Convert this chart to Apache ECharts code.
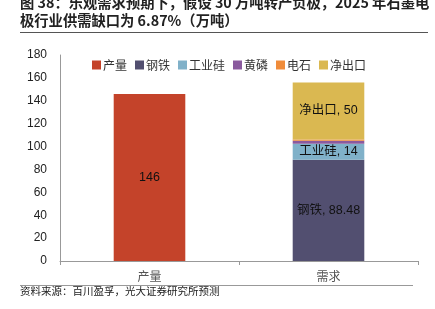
<!DOCTYPE html>
<html><head><meta charset="utf-8">
<script src="https://cdn.jsdelivr.net/npm/echarts@6/dist/echarts.min.js"></script>
<style>html,body{margin:0;padding:0;background:#fff}#c{width:435px;height:309px}</style>
</head><body><div id="c"></div>
<script>
const categories = ['产量', '需求'];
const seriesNames = ['产量', '钢铁', '工业硅', '黄磷', '电石', '净出口'];
const supply = [146, null];
const steel = [null, 88.48];
const silicon = [null, 14];
const phosphorus = [null, 2.6];
const carbide = [null, 1.0];
const netExport = [null, 50];
const yTicks = {min: 0, max: 180, interval: 20};
const titleLine1 = '图 38：乐观需求预期下，假设 30 万吨转产负极，2025 年石墨电';
const titleLine2 = '极行业供需缺口为 6.87%（万吨）';
const sourceText = '资料来源：百川盈孚，光大证券研究所预测';

const colors = ['#C4432A', '#524F70', '#80B1C9', '#8A5A9E', '#F08C3A', '#DAB851'];
const dataArr = [supply, steel, silicon, phosphorus, carbide, netExport];
const labelShow = [true, true, true, false, false, true];
const font = '"Noto Sans CJK SC", "Liberation Sans", sans-serif';
const numFont = '"Liberation Sans", "Noto Sans CJK SC", sans-serif';

const series = seriesNames.map((n, i) => ({
  name: n, type: 'bar', stack: 'total', barWidth: '40%',
  data: dataArr[i],
  itemStyle: {color: colors[i]},
  label: {
    show: labelShow[i], position: 'inside', color: '#111', fontSize: 12.5, fontFamily: numFont,
    formatter: p => i === 0 ? String(p.value) : (p.seriesName + ', ' + p.value)
  }
}));

const chart = echarts.init(document.getElementById('c'));
chart.setOption({
  animation: false,
  textStyle: {fontFamily: font},
  grid: {left: 60, right: 17, top: 55, bottom: 48, containLabel: false},
  legend: {
    top: 54, left: 87, itemWidth: 9, itemHeight: 9, itemGap: 8,
    icon: 'rect',
    textStyle: {fontSize: 12, color: '#333', padding: [0, 0, 0, -3]},
    data: seriesNames
  },
  xAxis: {
    type: 'category', data: categories,
    axisLine: {lineStyle: {color: '#999'}},
    axisTick: {show: true, lineStyle: {color: '#999'}, length: 4},
    axisLabel: {color: '#555', fontSize: 12, margin: 9}
  },
  yAxis: {
    type: 'value', min: yTicks.min, max: yTicks.max, interval: yTicks.interval,
    axisLine: {show: true, lineStyle: {color: '#999'}},
    axisTick: {show: false},
    splitLine: {show: false},
    axisLabel: {color: '#222', fontSize: 12, margin: 13, fontFamily: numFont}
  },
  series: series,
  graphic: [
    {type: 'text', left: 20, top: -5, style: {text: titleLine1, font: 'bold 14.3px ' + font, fill: '#222'}},
    {type: 'text', left: 20, top: 13, style: {text: titleLine2, font: 'bold 14.3px ' + font, fill: '#222'}},
    {type: 'line', shape: {x1: 20, y1: 32.5, x2: 428, y2: 32.5}, style: {stroke: '#555', lineWidth: 1}},
    {type: 'line', shape: {x1: 20, y1: 285.5, x2: 413, y2: 285.5}, style: {stroke: '#999', lineWidth: 1}},
    {type: 'text', left: 20, top: 286, style: {text: sourceText, font: '10.5px ' + font, fill: '#222'}}
  ]
});
</script></body></html>
